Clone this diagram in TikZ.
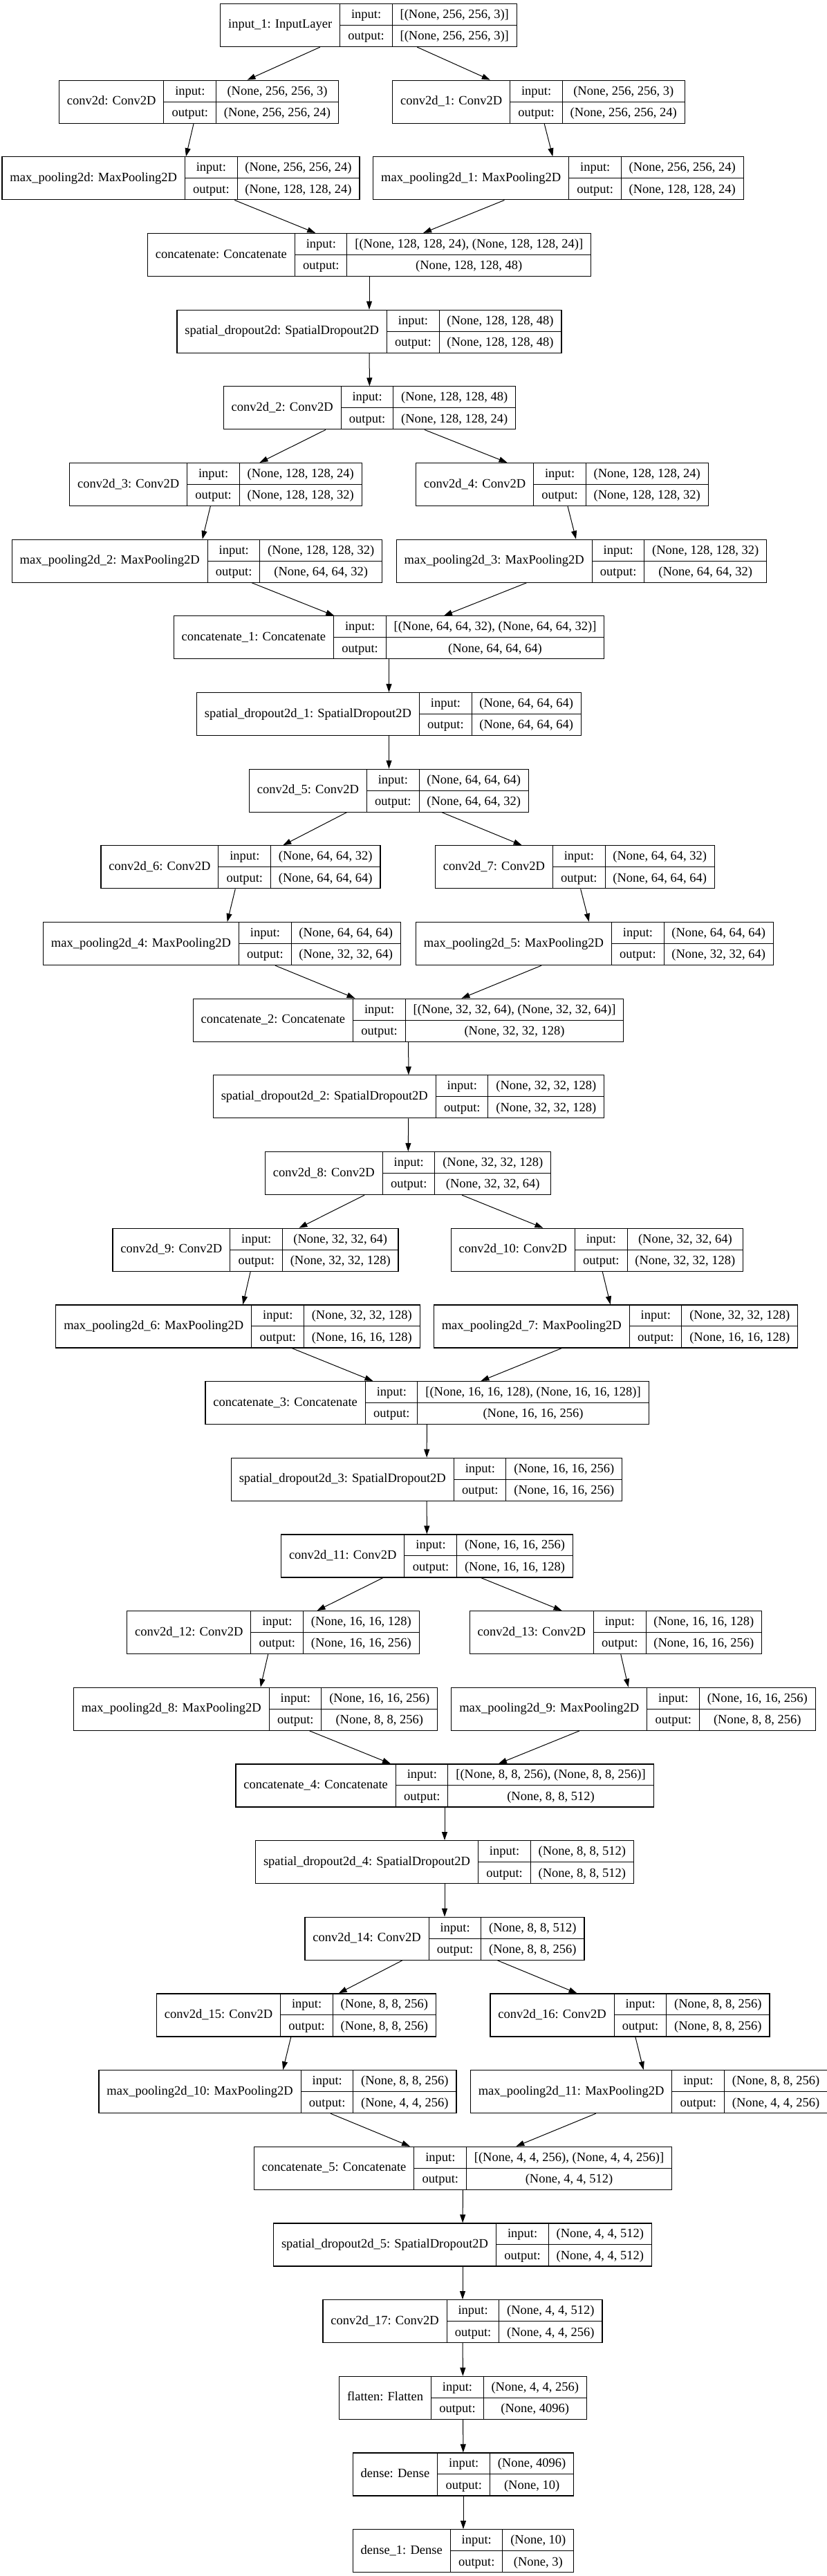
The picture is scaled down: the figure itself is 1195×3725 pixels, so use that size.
\documentclass[tikz,border=0pt]{standalone}
\usepackage{fontspec}
\setmainfont{Liberation Serif}
\usepackage{tikz}
\usetikzlibrary{arrows.meta}
\newlength{\cellpad}
\setlength{\cellpad}{5.7pt}
\setlength{\arrayrulewidth}{0.5pt}
\newcommand{\rowstrut}{\rule[-4.8pt]{0pt}{15.25pt}}
\newcommand{\lyr}[3]{%
  \setlength{\tabcolsep}{\cellpad}%
  \begin{tabular}{c|@{}c@{}}
    #1 &
    \begin{tabular}{c|c}
      \rowstrut input: & #2\\ \hline
      \rowstrut output: & #3
    \end{tabular}
  \end{tabular}}

\begin{document}
\begin{tikzpicture}[x=0.5pt, y=0.5pt,
    layer/.style={draw, line width=0.6pt, inner sep=0pt, font=\fontsize{9.25}{11}\selectfont},
    arr/.style={line width=0.5pt, -{Triangle[length=6pt,width=4pt]}}]
  \useasboundingbox (0,0) rectangle (1195,-3725);
  \foreach \nm/\x/\row/\lb/\vin/\vout in {
      inp/533/0/{input\_1: InputLayer}/{[(None, 256, 256, 3)]}/{[(None, 256, 256, 3)]},
      c0/287.5/1/{conv2d: Conv2D}/{(None, 256, 256, 3)}/{(None, 256, 256, 24)},
      c1/779/1/{conv2d\_1: Conv2D}/{(None, 256, 256, 3)}/{(None, 256, 256, 24)},
      mp0/261.5/2/{max\_pooling2d: MaxPooling2D}/{(None, 256, 256, 24)}/{(None, 128, 128, 24)},
      mp1/807.5/2/{max\_pooling2d\_1: MaxPooling2D}/{(None, 256, 256, 24)}/{(None, 128, 128, 24)},
      cat0/534/3/{concatenate: Concatenate}/{[(None, 128, 128, 24), (None, 128, 128, 24)]}/{(None, 128, 128, 48)},
      sd0/534/4/{spatial\_dropout2d: SpatialDropout2D}/{(None, 128, 128, 48)}/{(None, 128, 128, 48)},
      c2/534.5/5/{conv2d\_2: Conv2D}/{(None, 128, 128, 48)}/{(None, 128, 128, 24)},
      c3/312/6/{conv2d\_3: Conv2D}/{(None, 128, 128, 24)}/{(None, 128, 128, 32)},
      c4/813/6/{conv2d\_4: Conv2D}/{(None, 128, 128, 24)}/{(None, 128, 128, 32)},
      mp2/285/7/{max\_pooling2d\_2: MaxPooling2D}/{(None, 128, 128, 32)}/{(None, 64, 64, 32)},
      mp3/841/7/{max\_pooling2d\_3: MaxPooling2D}/{(None, 128, 128, 32)}/{(None, 64, 64, 32)},
      cat1/562.5/8/{concatenate\_1: Concatenate}/{[(None, 64, 64, 32), (None, 64, 64, 32)]}/{(None, 64, 64, 64)},
      sd1/562.5/9/{spatial\_dropout2d\_1: SpatialDropout2D}/{(None, 64, 64, 64)}/{(None, 64, 64, 64)},
      c5/562.5/10/{conv2d\_5: Conv2D}/{(None, 64, 64, 64)}/{(None, 64, 64, 32)},
      c6/348/11/{conv2d\_6: Conv2D}/{(None, 64, 64, 32)}/{(None, 64, 64, 64)},
      c7/831.5/11/{conv2d\_7: Conv2D}/{(None, 64, 64, 32)}/{(None, 64, 64, 64)},
      mp4/321/12/{max\_pooling2d\_4: MaxPooling2D}/{(None, 64, 64, 64)}/{(None, 32, 32, 64)},
      mp5/860/12/{max\_pooling2d\_5: MaxPooling2D}/{(None, 64, 64, 64)}/{(None, 32, 32, 64)},
      cat2/590.5/13/{concatenate\_2: Concatenate}/{[(None, 32, 32, 64), (None, 32, 32, 64)]}/{(None, 32, 32, 128)},
      sd2/591/14/{spatial\_dropout2d\_2: SpatialDropout2D}/{(None, 32, 32, 128)}/{(None, 32, 32, 128)},
      c8/590/15/{conv2d\_8: Conv2D}/{(None, 32, 32, 128)}/{(None, 32, 32, 64)},
      c9/369.5/16/{conv2d\_9: Conv2D}/{(None, 32, 32, 64)}/{(None, 32, 32, 128)},
      c10/863.5/16/{conv2d\_10: Conv2D}/{(None, 32, 32, 64)}/{(None, 32, 32, 128)},
      mp6/344/17/{max\_pooling2d\_6: MaxPooling2D}/{(None, 32, 32, 128)}/{(None, 16, 16, 128)},
      mp7/890.5/17/{max\_pooling2d\_7: MaxPooling2D}/{(None, 32, 32, 128)}/{(None, 16, 16, 128)},
      cat3/617.5/18/{concatenate\_3: Concatenate}/{[(None, 16, 16, 128), (None, 16, 16, 128)]}/{(None, 16, 16, 256)},
      sd3/617/19/{spatial\_dropout2d\_3: SpatialDropout2D}/{(None, 16, 16, 256)}/{(None, 16, 16, 256)},
      c11/617.5/20/{conv2d\_11: Conv2D}/{(None, 16, 16, 256)}/{(None, 16, 16, 128)},
      c12/395/21/{conv2d\_12: Conv2D}/{(None, 16, 16, 128)}/{(None, 16, 16, 256)},
      c13/890.5/21/{conv2d\_13: Conv2D}/{(None, 16, 16, 128)}/{(None, 16, 16, 256)},
      mp8/369.5/22/{max\_pooling2d\_8: MaxPooling2D}/{(None, 16, 16, 256)}/{(None, 8, 8, 256)},
      mp9/916/22/{max\_pooling2d\_9: MaxPooling2D}/{(None, 16, 16, 256)}/{(None, 8, 8, 256)},
      cat4/643/23/{concatenate\_4: Concatenate}/{[(None, 8, 8, 256), (None, 8, 8, 256)]}/{(None, 8, 8, 512)},
      sd4/643/24/{spatial\_dropout2d\_4: SpatialDropout2D}/{(None, 8, 8, 512)}/{(None, 8, 8, 512)},
      c14/643/25/{conv2d\_14: Conv2D}/{(None, 8, 8, 512)}/{(None, 8, 8, 256)},
      c15/428.5/26/{conv2d\_15: Conv2D}/{(None, 8, 8, 256)}/{(None, 8, 8, 256)},
      c16/911/26/{conv2d\_16: Conv2D}/{(None, 8, 8, 256)}/{(None, 8, 8, 256)},
      mp10/401.5/27/{max\_pooling2d\_10: MaxPooling2D}/{(None, 8, 8, 256)}/{(None, 4, 4, 256)},
      mp11/938.5/27/{max\_pooling2d\_11: MaxPooling2D}/{(None, 8, 8, 256)}/{(None, 4, 4, 256)},
      cat5/669.5/28/{concatenate\_5: Concatenate}/{[(None, 4, 4, 256), (None, 4, 4, 256)]}/{(None, 4, 4, 512)},
      sd5/669/29/{spatial\_dropout2d\_5: SpatialDropout2D}/{(None, 4, 4, 512)}/{(None, 4, 4, 512)},
      c17/669/30/{conv2d\_17: Conv2D}/{(None, 4, 4, 512)}/{(None, 4, 4, 256)},
      fl/669.5/31/{flatten: Flatten}/{(None, 4, 4, 256)}/{(None, 4096)},
      d0/670/32/{dense: Dense}/{(None, 4096)}/{(None, 10)},
      d1/670/33/{dense\_1: Dense}/{(None, 10)}/{(None, 3)}}{
    \node[layer] (\nm) at (\x, {-(36.5+110.67*\row)}) {\lyr{\lb}{\vin}{\vout}};
  }
  \foreach \a/\b in {inp/c0, inp/c1, c0/mp0, c1/mp1, mp0/cat0, mp1/cat0, cat0/sd0, sd0/c2,
      c2/c3, c2/c4, c3/mp2, c4/mp3, mp2/cat1, mp3/cat1, cat1/sd1, sd1/c5,
      c5/c6, c5/c7, c6/mp4, c7/mp5, mp4/cat2, mp5/cat2, cat2/sd2, sd2/c8,
      c8/c9, c8/c10, c9/mp6, c10/mp7, mp6/cat3, mp7/cat3, cat3/sd3, sd3/c11,
      c11/c12, c11/c13, c12/mp8, c13/mp9, mp8/cat4, mp9/cat4, cat4/sd4, sd4/c14,
      c14/c15, c14/c16, c15/mp10, c16/mp11, mp10/cat5, mp11/cat5, cat5/sd5, sd5/c17,
      c17/fl, fl/d0, d0/d1}
    \draw[arr] (\a) -- (\b);
\end{tikzpicture}
\end{document}
